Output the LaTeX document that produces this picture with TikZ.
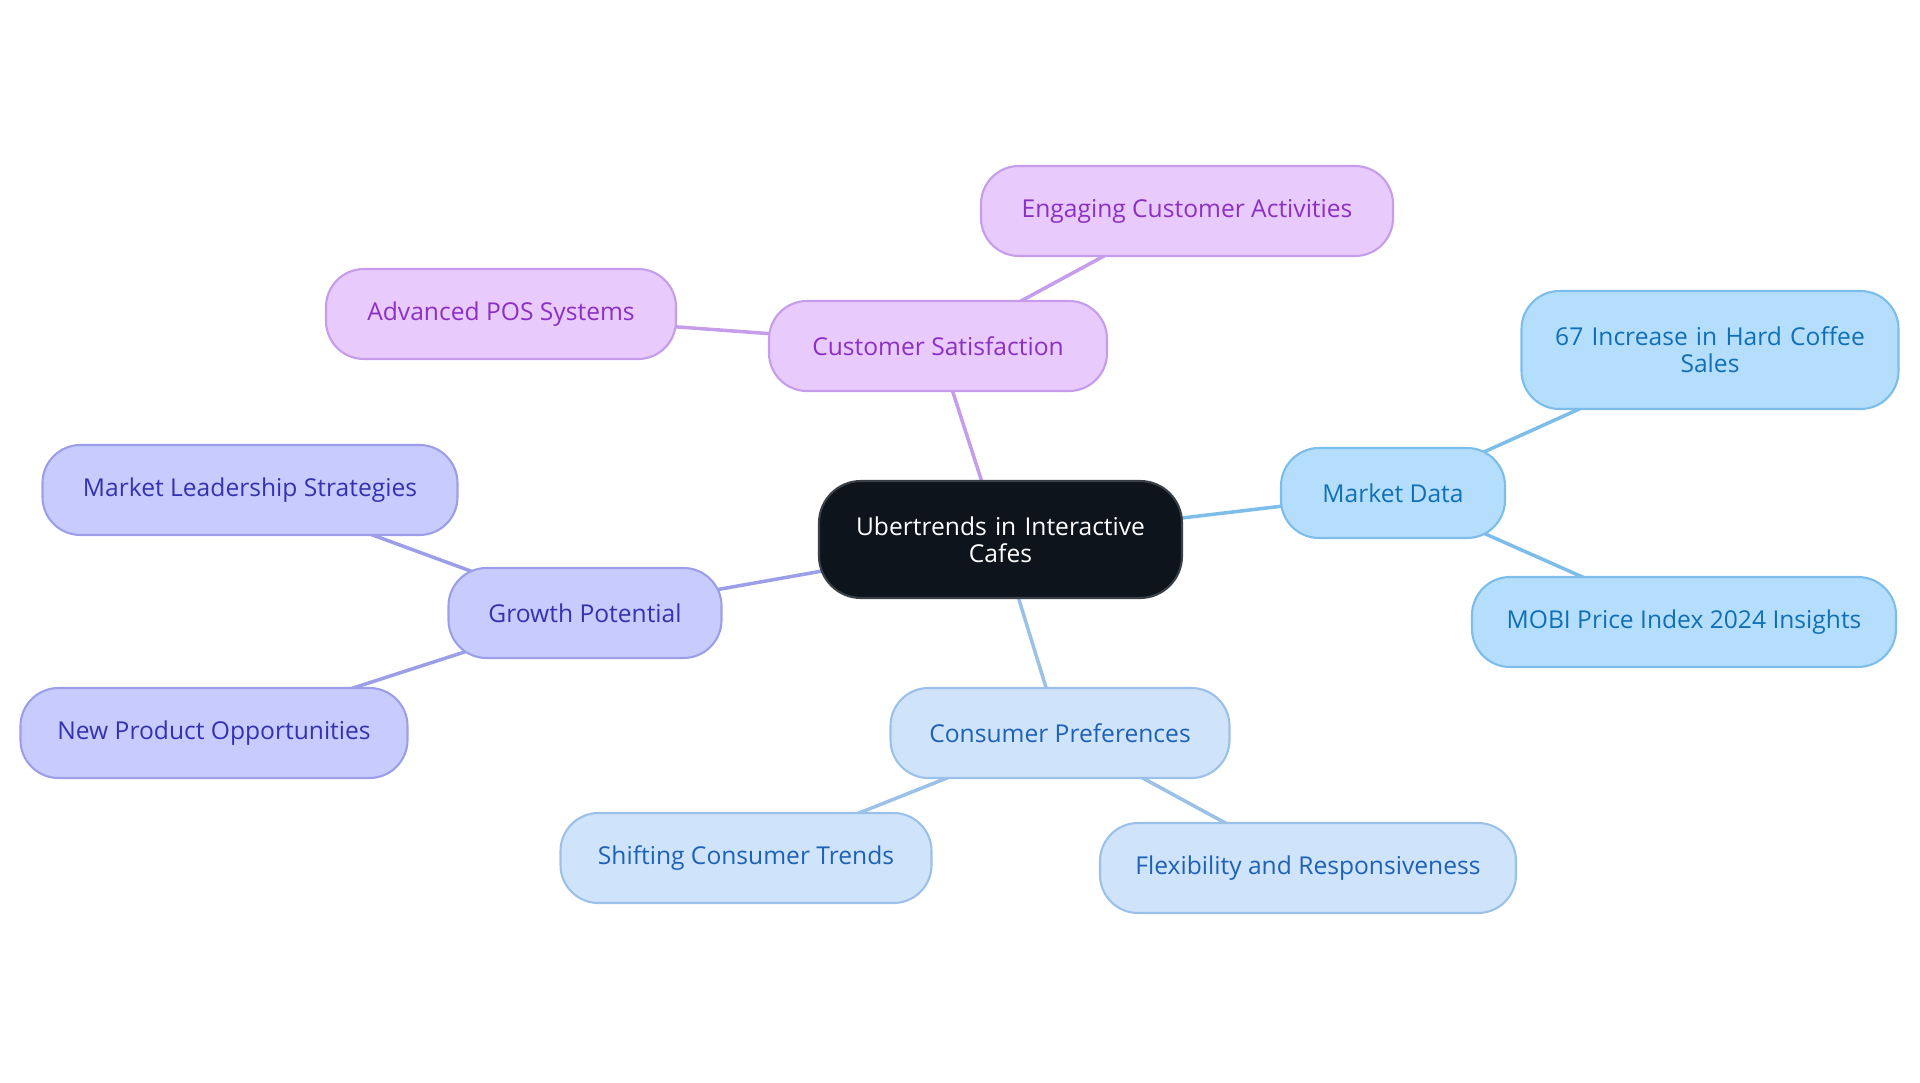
\documentclass[tikz,border=0pt]{standalone}
\usepackage{fontspec}
\setmainfont{Open Sans}
\usetikzlibrary{positioning, backgrounds}
\definecolor{rootFill}{HTML}{0D141C}
\definecolor{rootLine}{HTML}{3A4048}
\definecolor{purpFill}{HTML}{E9CAFD}
\definecolor{purpLine}{HTML}{C69DEA}
\definecolor{purpText}{HTML}{8A30C2}
\definecolor{skyFill}{HTML}{B4DEFC}
\definecolor{skyLine}{HTML}{7CBDEA}
\definecolor{skyText}{HTML}{1170B5}
\definecolor{paleFill}{HTML}{CFE3FB}
\definecolor{paleLine}{HTML}{9CC1E8}
\definecolor{paleText}{HTML}{1E62B6}
\definecolor{violFill}{HTML}{C8CBFD}
\definecolor{violLine}{HTML}{9C9FE8}
\definecolor{violText}{HTML}{3333B0}
\tikzstyle{pill} =[draw, line width=0.6pt, rounded corners=0.38cm, align=center, inner sep=0pt, minimum height=0.9cm, font=\fontsize{7.0}{7.7}\selectfont]
\tikzstyle{purpbox} =[pill, fill=purpFill, draw=purpLine, text=purpText]
\tikzstyle{skybox} =[pill, fill=skyFill, draw=skyLine, text=skyText]
\tikzstyle{palebox} =[pill, fill=paleFill, draw=paleLine, text=paleText]
\tikzstyle{violbox} =[pill, fill=violFill, draw=violLine, text=violText]
\tikzstyle{link} =[line width=1pt]

\begin{document}
\begin{tikzpicture}
\useasboundingbox (0,0) rectangle (19.2,-10.83);

\node (root) [pill, fill=rootFill, draw=rootLine, text=white, rounded corners=0.42cm, minimum width=3.63cm, minimum height=1.17cm, text width=3.3cm] at (10.005,-5.395) {Ubertrends in Interactive\\Cafes};

% customer satisfaction branch
\node (custSat) [purpbox, minimum width=3.38cm] at (9.38,-3.46) {Customer Satisfaction};
\node (engage) [purpbox, minimum width=4.12cm] at (11.87,-2.11) {Engaging Customer Activities};
\node (pos) [purpbox, minimum width=3.5cm] at (5.01,-3.14) {Advanced POS Systems};

% market data branch
\node (mktData) [skybox, minimum width=2.24cm] at (13.93,-4.93) {Market Data};
\node (hardCoffee) [skybox, minimum width=3.77cm, minimum height=1.18cm, text width=3.5cm] at (17.10,-3.50) {67 Increase in Hard Coffee\\Sales};
\node (mobi) [skybox, minimum width=4.24cm] at (16.84,-6.22) {MOBI Price Index 2024 Insights};

% growth branch
\node (growth) [violbox, minimum width=2.73cm] at (5.85,-6.13) {Growth Potential};
\node (leader) [violbox, minimum width=4.15cm] at (2.50,-4.90) {Market Leadership Strategies};
\node (newProd) [violbox, minimum width=3.87cm] at (2.14,-7.33) {New Product Opportunities};

% consumer branch
\node (consPref) [palebox, minimum width=3.39cm] at (10.60,-7.33) {Consumer Preferences};
\node (shifting) [palebox, minimum width=3.71cm] at (7.46,-8.58) {Shifting Consumer Trends};
\node (flex) [palebox, minimum width=4.16cm] at (13.08,-8.68) {Flexibility and Responsiveness};

\begin{scope}[on background layer]
\draw[link, purpLine] (root.center) -- (custSat.center);
\draw[link, purpLine] (custSat.center) -- (engage.center);
\draw[link, purpLine] (custSat.center) -- (pos.center);
\draw[link, skyLine] (root.center) -- (mktData.center);
\draw[link, skyLine] (mktData.center) -- (hardCoffee.center);
\draw[link, skyLine] (mktData.center) -- (mobi.center);
\draw[link, violLine] (root.center) -- (growth.center);
\draw[link, violLine] (growth.center) -- (leader.center);
\draw[link, violLine] (growth.center) -- (newProd.center);
\draw[link, paleLine] (root.center) -- (consPref.center);
\draw[link, paleLine] (consPref.center) -- (shifting.center);
\draw[link, paleLine] (consPref.center) -- (flex.center);
\end{scope}

\end{tikzpicture}
\end{document}
